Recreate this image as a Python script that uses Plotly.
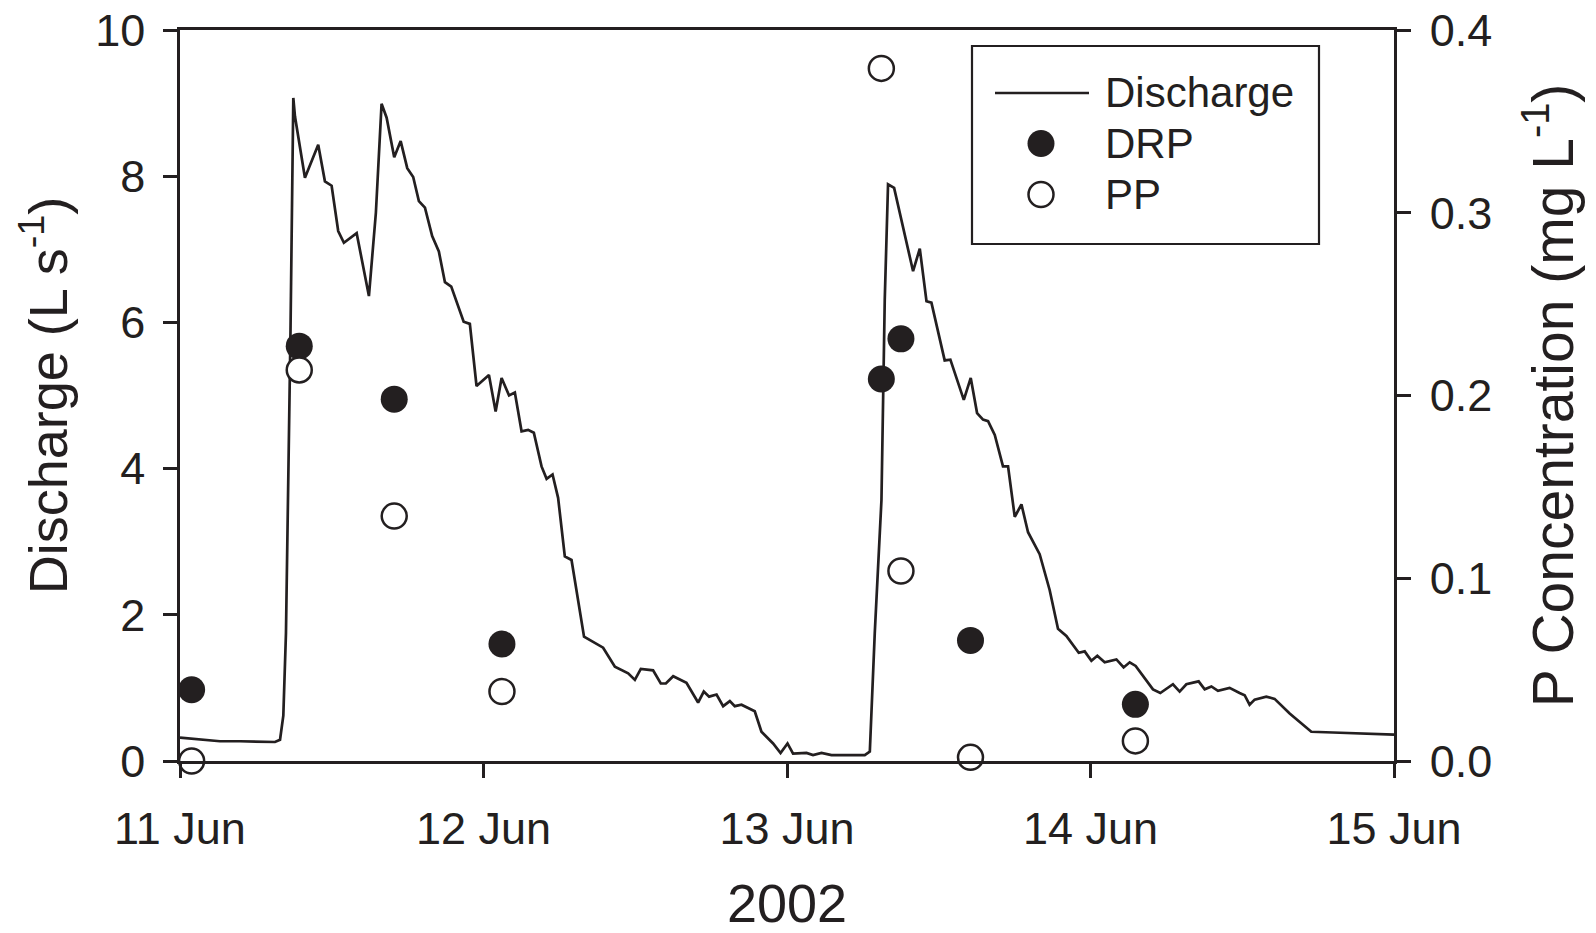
import pandas as pd
import plotly.graph_objects as go

# ---- data (hours after 11 Jun 2002 00:00) ----
q_hours = [0.00, 1.58, 3.16, 4.74, 6.32, 7.51, 7.91, 8.17, 8.38, 8.56, 8.74, 8.96,
           9.09, 9.88, 10.93, 11.46, 11.99, 12.51, 12.96, 13.97, 14.94, 15.49, 15.94,
           16.34, 16.94, 17.45, 17.97, 18.44, 18.89, 19.37, 19.94, 20.47, 20.95, 21.45,
           22.43, 22.92, 23.45, 24.43, 24.96, 25.43, 26.02, 26.48, 27.01, 27.53, 27.98,
           28.59, 28.99, 29.46, 29.90, 30.43, 30.96, 31.95, 33.46, 34.39, 35.44, 35.97,
           36.44, 37.41, 38.02, 38.42, 39.00, 40.05, 40.97, 41.42, 41.84, 42.43, 42.95,
           43.48, 43.87, 44.40, 45.45, 45.98, 46.90, 47.49, 48.04, 48.48, 49.54, 50.06,
           50.73, 51.52, 54.15, 54.55, 54.94, 55.47, 55.61, 55.73, 55.99, 56.47, 57.97,
           58.50, 59.03, 59.42, 60.47, 60.92, 61.98, 62.53, 63.03, 63.50, 63.90, 64.43,
           65.08, 65.48, 66.01, 66.54, 67.06, 67.98, 68.77, 69.43, 70.09, 71.07, 71.54,
           72.07, 72.54, 73.12, 74.05, 74.62, 75.10, 75.57, 76.94, 77.52, 78.52, 79.05,
           79.58, 80.55, 81.03, 81.56, 82.08, 83.00, 83.79, 84.19, 84.58, 84.98, 85.90,
           86.56, 87.75, 88.67, 89.46, 91.17, 93.81, 96.00]
discharge = [0.32, 0.29, 0.27, 0.27, 0.26, 0.26, 0.29, 0.62, 1.75, 3.67, 5.90, 9.07,
             8.82, 7.98, 8.43, 7.93, 7.87, 7.25, 7.09, 7.22, 6.36, 7.50, 8.99,
             8.80, 8.26, 8.48, 8.11, 7.99, 7.66, 7.57, 7.18, 6.97, 6.55, 6.49,
             6.01, 5.98, 5.13, 5.28, 4.78, 5.24, 5.00, 5.04, 4.51, 4.53, 4.49,
             4.03, 3.86, 3.92, 3.60, 2.80, 2.75, 1.70, 1.55, 1.29, 1.20, 1.11,
             1.26, 1.24, 1.06, 1.06, 1.16, 1.07, 0.80, 0.95, 0.88, 0.91, 0.75,
             0.82, 0.75, 0.77, 0.68, 0.40, 0.24, 0.11, 0.24, 0.10, 0.11, 0.08,
             0.11, 0.08, 0.08, 0.13, 1.75, 3.57, 5.18, 6.31, 7.89, 7.84, 6.70,
             7.01, 6.29, 6.27, 5.48, 5.49, 4.94, 5.24, 4.76, 4.67, 4.65, 4.46,
             4.03, 4.03, 3.34, 3.51, 3.13, 2.83, 2.34, 1.81, 1.71, 1.48, 1.50,
             1.37, 1.44, 1.35, 1.39, 1.28, 1.35, 1.30, 0.98, 0.93, 1.05, 0.95,
             1.05, 1.09, 0.98, 1.02, 0.96, 1.00, 0.93, 0.90, 0.77, 0.84, 0.88,
             0.85, 0.65, 0.52, 0.40, 0.39, 0.37, 0.36]

sample_hours = [0.92, 9.43, 16.94, 25.46, 55.46, 57.01, 62.51, 75.55]
drp = [0.039, 0.227, 0.198, 0.064, 0.209, 0.231, 0.066, 0.031]
pp = [0.000, 0.214, 0.134, 0.038, 0.379, 0.104, 0.002, 0.011]

day_ticks = ["2002-06-11", "2002-06-12", "2002-06-13", "2002-06-14", "2002-06-15"]
day_labels = ["11 Jun", "12 Jun", "13 Jun", "14 Jun", "15 Jun"]

legend_names = ["Discharge", "DRP", "PP"]

base = pd.Timestamp("2002-06-11")
q_time = base + pd.to_timedelta(q_hours, unit="h")
s_time = base + pd.to_timedelta(sample_hours, unit="h")

INK = "#231f20"
FONT = "Liberation Sans, Arial, Helvetica, sans-serif"

fig = go.Figure()
fig.add_trace(go.Scatter(x=q_time, y=discharge, mode="lines", name=legend_names[0],
                         line=dict(color=INK, width=2.7), showlegend=False))
fig.add_trace(go.Scatter(x=s_time, y=drp, mode="markers", name=legend_names[1], yaxis="y2",
                         marker=dict(size=27, color=INK, line=dict(width=0)),
                         cliponaxis=False, showlegend=False))
fig.add_trace(go.Scatter(x=s_time, y=pp, mode="markers", name=legend_names[2], yaxis="y2",
                         marker=dict(size=25, color="white", line=dict(width=2.5, color=INK)),
                         cliponaxis=False, showlegend=False))

# plot area in pixels: x 180..1394, y 30..761
L, R, T, B = 180, 1394, 30, 761
W, H = R - L, B - T
def px(x):
    return (x - L) / W
def py(y):
    return (B - y) / H

shapes = [
    dict(type="rect", xref="paper", yref="paper", x0=px(972), x1=px(1319), y0=py(244), y1=py(46),
         line=dict(color=INK, width=2.2), fillcolor="white", layer="above"),
    dict(type="line", xref="paper", yref="paper", x0=px(995), x1=px(1089), y0=py(93), y1=py(93),
         line=dict(color=INK, width=2.5)),
    dict(type="circle", xref="paper", yref="paper", xsizemode="pixel", ysizemode="pixel",
         xanchor=px(1041), yanchor=py(143.5), x0=-13.5, x1=13.5, y0=-13.5, y1=13.5,
         fillcolor=INK, line=dict(width=0)),
    dict(type="circle", xref="paper", yref="paper", xsizemode="pixel", ysizemode="pixel",
         xanchor=px(1041), yanchor=py(194.5), x0=-12.5, x1=12.5, y0=-12.5, y1=12.5,
         fillcolor="white", line=dict(width=2.5, color=INK)),
]
annotations = [
    dict(text=legend_names[i], xref="paper", yref="paper", x=px(1103), y=py(yy),
         xanchor="left", yanchor="middle", showarrow=False,
         font=dict(family=FONT, size=42, color=INK))
    for i, yy in enumerate([93, 143.5, 194.5])
]

axis_common = dict(showline=True, linecolor=INK, linewidth=2.5, ticks="outside",
                   ticklen=14, tickwidth=2.5, tickcolor=INK, showgrid=False, zeroline=False,
                   tickfont=dict(family=FONT, size=45, color=INK))

fig.update_layout(
    width=1596, height=933,
    margin=dict(l=L, r=1596 - R, t=T, b=933 - B, autoexpand=False),
    paper_bgcolor="white", plot_bgcolor="white",
    font=dict(family=FONT, color=INK),
    xaxis=dict(**axis_common, type="date", range=[day_ticks[0], day_ticks[-1]],
               tickvals=day_ticks, ticktext=day_labels, mirror=True,
               ticklabelstandoff=12,
               title=dict(text="2002", font=dict(family=FONT, size=54, color=INK), standoff=34)),
    yaxis=dict(**axis_common, range=[0, 10], tickvals=[0, 2, 4, 6, 8, 10],
               ticklabelstandoff=9,
               title=dict(text="Discharge (L s<sup>-1</sup>)",
                          font=dict(family=FONT, size=54, color=INK), standoff=11)),
    yaxis2=dict(**axis_common, overlaying="y", side="right", range=[0, 0.4],
                tickvals=[0, 0.1, 0.2, 0.3, 0.4], tickformat=".1f",
                ticklabelstandoff=10,
                title=dict(text="P Concentration (mg L<sup>-1</sup>)",
                           font=dict(family=FONT, size=57, color=INK), standoff=42)),
    shapes=shapes, annotations=annotations, showlegend=False,
)

fig.write_html("out.html")
